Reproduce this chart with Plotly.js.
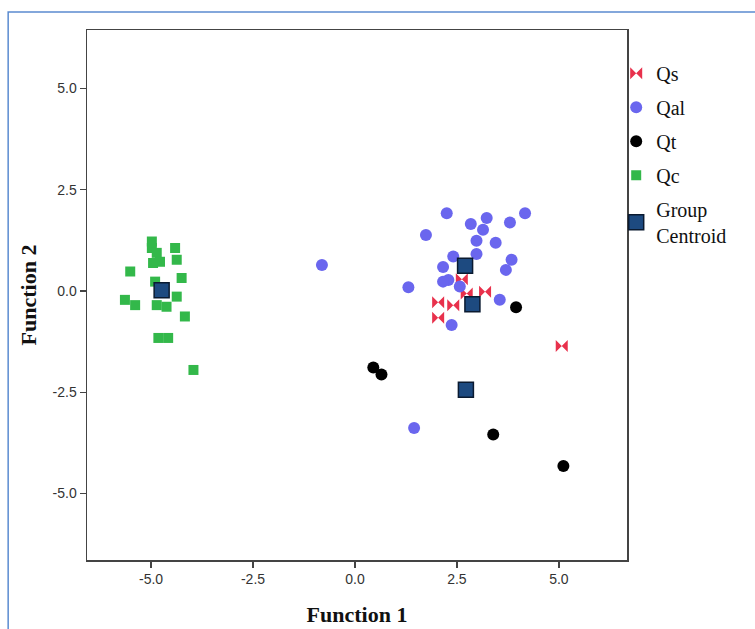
<!DOCTYPE html>
<html><head><meta charset="utf-8">
<script src="https://cdn.plot.ly/plotly-3.0.1.min.js"></script>
<style>html,body{margin:0;padding:0;background:#fff;}#chart{width:755px;height:629px;}</style>
</head><body><div id="chart"></div>
<script>
// Qs
const qsX = [2.62, 2.74, 3.19, 2.04, 2.41, 2.04, 5.07];
const qsY = [0.29, -0.06, -0.02, -0.28, -0.35, -0.66, -1.36];
// Qal
const qalX = [2.25, 4.17, 3.23, 2.84, 3.80, 3.14, 1.74, 2.98, 3.45, 2.41, 2.98, 3.84, 2.16, 3.70, 2.29, 2.16, 2.57, 1.31, 3.55, 2.37, -0.81, 1.45];
const qalY = [1.92, 1.92, 1.80, 1.65, 1.69, 1.51, 1.38, 1.24, 1.19, 0.85, 0.91, 0.77, 0.59, 0.52, 0.27, 0.23, 0.11, 0.09, -0.22, -0.84, 0.64, -3.38];
// Qt
const qtX = [0.45, 0.65, 3.39, 5.11, 3.95];
const qtY = [-1.89, -2.06, -3.54, -4.32, -0.40];
// Qc
const qcX = [-4.98, -4.98, -4.86, -4.95, -4.78, -4.41, -4.37, -5.51, -4.90, -4.25, -4.37, -5.64, -5.39, -4.86, -4.62, -4.17, -4.82, -4.58, -3.96];
const qcY = [1.22, 1.06, 0.94, 0.69, 0.72, 1.06, 0.77, 0.48, 0.23, 0.32, -0.14, -0.22, -0.35, -0.35, -0.39, -0.63, -1.16, -1.16, -1.95];
// Group centroids
const centX = [2.70, 2.88, 2.72, -4.74];
const centY = [0.62, -0.33, -2.44, 0.02];
const tickVals = [-5, -2.5, 0, 2.5, 5];
const tickText = ["-5.0", "-2.5", "0.0", "2.5", "5.0"];

const traces = [
  {x: qsX, y: qsY, name: "Qs", legendgroup: "a", mode: "markers", type: "scatter",
   marker: {symbol: "bowtie", size: 12, color: "#e8314c", line: {width: 0}}},
  {x: qalX, y: qalY, name: "Qal", legendgroup: "b", mode: "markers", type: "scatter",
   marker: {symbol: "circle", size: 12, color: "#6a66ee", line: {width: 0}}},
  {x: qtX, y: qtY, name: "Qt", legendgroup: "c", mode: "markers", type: "scatter",
   marker: {symbol: "circle", size: 12, color: "#000000", line: {width: 0}}},
  {x: qcX, y: qcY, name: "Qc", legendgroup: "d", mode: "markers", type: "scatter",
   marker: {symbol: "square", size: 10, color: "#33b84a", line: {width: 0}}},
  {x: centX, y: centY, name: "Group<br>Centroid", legendgroup: "e", mode: "markers", type: "scatter",
   marker: {symbol: "square", size: 15, color: "#1d4a80", line: {width: 1.5, color: "#0a1a30"}}}
];

function makeAxis(range, titleText, standoff) {
  return {
    range: range,
    tickmode: "array", tickvals: tickVals, ticktext: tickText,
    ticks: "outside", ticklen: 6, tickwidth: 1.5, tickcolor: "#444",
    showline: true, linecolor: "#444", linewidth: 1.5, mirror: true,
    showgrid: false, zeroline: false,
    tickfont: {family: "Arial", size: 14, color: "#333"},
    title: {text: "<b>" + titleText + "</b>", font: {family: "Liberation Serif, Times New Roman, serif", size: 22, color: "#111"}, standoff: standoff}
  };
}

const layout = {
  width: 755, height: 629,
  margin: {l: 87, r: 128, t: 30, b: 69},
  paper_bgcolor: "#ffffff", plot_bgcolor: "#ffffff",
  showlegend: true,
  xaxis: makeAxis([-6.57, 6.67], "Function 1", 20),
  yaxis: makeAxis([-6.64, 6.44], "Function 2", 10),
  legend: {
    x: 0.98, xanchor: "left", y: 0.955, yanchor: "top",
    font: {family: "Liberation Serif, Times New Roman, serif", size: 20, color: "#111"},
    bgcolor: "rgba(0,0,0,0)", itemwidth: 30, tracegroupgap: 5
  },
  shapes: [
    {type: "rect", xref: "paper", yref: "paper", x0: -0.146, x1: 1.25, y0: -0.15, y1: 1.034,
     line: {color: "#5b8bd0", width: 1.5}, fillcolor: "rgba(0,0,0,0)", layer: "below"}
  ]
};

Plotly.newPlot("chart", traces, layout, {displayModeBar: false, staticPlot: true});
</script>
</body></html>
